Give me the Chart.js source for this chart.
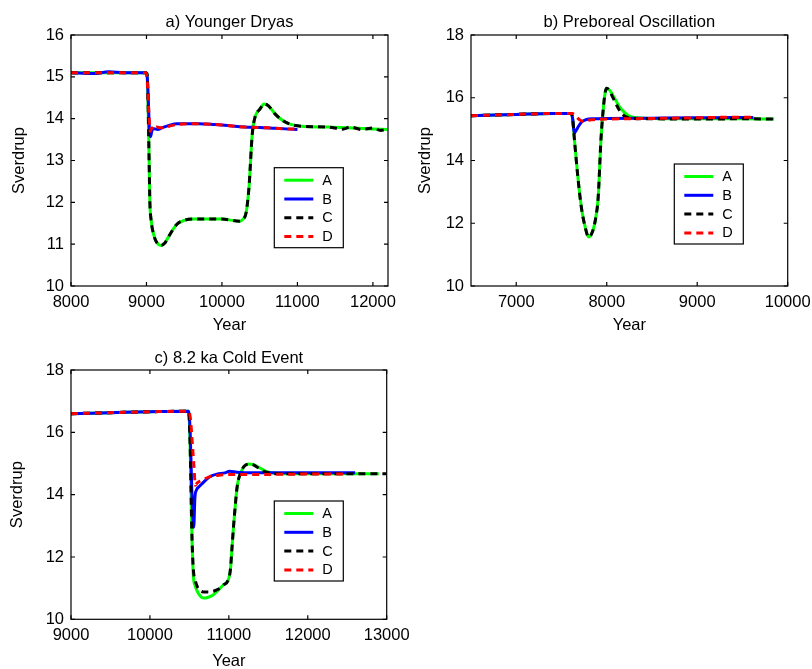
<!DOCTYPE html>
<html><head><meta charset="utf-8">
<script src="https://cdn.jsdelivr.net/npm/chart.js@4.4.1/dist/chart.umd.min.js"></script>
<style>
html,body{margin:0;padding:0;background:#fff;width:812px;height:669px;overflow:hidden;position:relative}
canvas{position:absolute}
</style></head><body>
<canvas id="ca" width="406" height="340" style="left:0;top:0;width:406px;height:340px"></canvas>
<canvas id="cb" width="406" height="340" style="left:406px;top:0;width:406px;height:340px"></canvas>
<canvas id="cc" width="420" height="335" style="left:0;top:340px;width:420px;height:335px"></canvas>
<script>
// ---------- shared series styling ----------
const seriesLabels = ['A', 'B', 'C', 'D'];
const seriesColors = ['#00ff00', '#0000ff', '#000000', '#ff0000'];
const seriesDash = [[], [], [7, 5], [7, 5]];

// ---------- a) Younger Dryas ----------
const titleA = 'a) Younger Dryas';
const xTicksA = [8000, 9000, 10000, 11000, 12000];
const yTicksA = [10, 11, 12, 13, 14, 15, 16];
const yearsA_a = [8000, 8500, 8990, 9005, 9015, 9025, 9035, 9045, 9060, 9100, 9140, 9190, 9240, 9300, 9400, 9500, 9630, 10000, 10230, 10280, 10320, 10360, 10400, 10440, 10500, 10560, 10620, 10700, 10800, 10900, 11050, 11400, 11800, 12200];
const valuesA_a = [15.1, 15.1, 15.1, 15.08, 14.8, 14.0, 13.0, 12.0, 11.6, 11.2, 11.03, 10.97, 11.02, 11.2, 11.47, 11.57, 11.6, 11.6, 11.55, 11.6, 11.75, 12.4, 13.6, 14.05, 14.22, 14.35, 14.3, 14.12, 13.96, 13.87, 13.82, 13.8, 13.77, 13.74];
const yearsB_a = [8000, 8300, 8500, 8700, 8990, 9010, 9025, 9040, 9055, 9070, 9100, 9150, 9200, 9300, 9400, 9500, 9700, 9900, 10100, 10300, 10500, 10700, 10900, 11000];
const valuesB_a = [15.1, 15.08, 15.12, 15.1, 15.1, 15.0, 14.4, 13.7, 13.57, 13.7, 13.76, 13.74, 13.78, 13.84, 13.88, 13.88, 13.88, 13.86, 13.83, 13.8, 13.79, 13.77, 13.75, 13.74];
const yearsC_a = [8000, 8500, 8990, 9005, 9015, 9025, 9035, 9045, 9060, 9100, 9140, 9190, 9240, 9300, 9400, 9500, 9630, 10000, 10230, 10280, 10320, 10360, 10400, 10440, 10500, 10560, 10620, 10700, 10800, 10900, 11050, 11400, 11600, 11700, 11850, 12000, 12100, 12200];
const valuesC_a = [15.1, 15.1, 15.1, 15.08, 14.8, 14.0, 13.0, 12.0, 11.6, 11.2, 11.03, 10.97, 11.02, 11.2, 11.47, 11.57, 11.6, 11.6, 11.55, 11.6, 11.75, 12.4, 13.6, 14.05, 14.22, 14.35, 14.3, 14.12, 13.96, 13.87, 13.82, 13.8, 13.75, 13.8, 13.74, 13.78, 13.72, 13.75];
const yearsD_a = [8000, 8300, 8600, 8990, 9005, 9020, 9035, 9050, 9070, 9100, 9130, 9200, 9300, 9400, 9600, 9800, 10000, 10300, 10600, 10800, 11000];
const valuesD_a = [15.1, 15.1, 15.1, 15.1, 15.0, 14.6, 14.0, 13.7, 13.78, 13.73, 13.8, 13.78, 13.82, 13.86, 13.88, 13.87, 13.85, 13.8, 13.78, 13.76, 13.75];

// ---------- b) Preboreal Oscillation ----------
const titleB = 'b) Preboreal Oscillation';
const xTicksB = [7000, 8000, 9000, 10000];
const yTicksB = [10, 12, 14, 16, 18];
const yearsA_b = [6500, 7000, 7400, 7600, 7620, 7645, 7680, 7720, 7760, 7800, 7845, 7880, 7905, 7937, 7967, 7985, 8000, 8030, 8066, 8100, 8140, 8190, 8230, 8300, 8500, 9000, 9500, 9850];
const valuesA_b = [15.43, 15.47, 15.5, 15.5, 15.4, 14.6, 13.5, 12.5, 11.9, 11.56, 11.75, 12.2, 12.8, 14.7, 15.8, 16.2, 16.3, 16.25, 16.09, 15.92, 15.72, 15.55, 15.45, 15.37, 15.34, 15.33, 15.33, 15.32];
const yearsB_b = [6500, 7000, 7400, 7610, 7625, 7640, 7660, 7690, 7720, 7760, 7800, 7850, 8000, 8500, 9000, 9400, 9620];
const valuesB_b = [15.43, 15.47, 15.5, 15.5, 15.3, 14.88, 14.95, 15.1, 15.22, 15.29, 15.32, 15.33, 15.34, 15.35, 15.36, 15.37, 15.37];
const yearsC_b = [6500, 7000, 7400, 7600, 7620, 7645, 7680, 7720, 7760, 7800, 7845, 7880, 7905, 7937, 7967, 7985, 8000, 8030, 8066, 8100, 8140, 8190, 8230, 8300, 8500, 9000, 9500, 9850];
const valuesC_b = [15.43, 15.47, 15.5, 15.5, 15.4, 14.6, 13.5, 12.5, 11.9, 11.56, 11.75, 12.2, 12.8, 14.7, 15.8, 16.2, 16.3, 16.22, 16.02, 15.82, 15.6, 15.43, 15.37, 15.34, 15.33, 15.32, 15.33, 15.32];
const yearsD_b = [6500, 7000, 7400, 7620, 7660, 7700, 7730, 7830, 8000, 8500, 9000, 9400, 9600];
const valuesD_b = [15.43, 15.47, 15.5, 15.5, 15.4, 15.3, 15.25, 15.3, 15.32, 15.34, 15.36, 15.38, 15.38];

// ---------- c) 8.2 ka Cold Event ----------
const titleC = 'c) 8.2 ka Cold Event';
const xTicksC = [9000, 10000, 11000, 12000, 13000];
const yTicksC = [10, 12, 14, 16, 18];
const yearsA_c = [9000, 9500, 10000, 10490, 10510, 10530, 10550, 10570, 10600, 10640, 10680, 10730, 10800, 10870, 10930, 10995, 11020, 11040, 11060, 11080, 11100, 11120, 11150, 11190, 11250, 11300, 11360, 11420, 11480, 11550, 11620, 12000, 12500, 12900];
const valuesA_c = [16.6, 16.63, 16.66, 16.68, 15.5, 12.9, 11.4, 11.1, 10.9, 10.74, 10.68, 10.7, 10.78, 10.95, 11.1, 11.28, 11.6, 12.3, 13.0, 13.6, 14.15, 14.47, 14.7, 14.9, 14.98, 14.97, 14.9, 14.82, 14.74, 14.7, 14.68, 14.67, 14.67, 14.67];
const yearsB_c = [9000, 9500, 10000, 10490, 10510, 10530, 10545, 10555, 10570, 10590, 10620, 10660, 10720, 10780, 10850, 10950, 11010, 11100, 11300, 11600, 12000, 12300, 12600];
const valuesB_c = [16.6, 16.63, 16.66, 16.68, 16.0, 14.2, 13.2, 12.95, 13.9, 14.15, 14.25, 14.35, 14.5, 14.6, 14.66, 14.7, 14.75, 14.72, 14.7, 14.7, 14.7, 14.7, 14.7];
const yearsC_c = [9000, 9500, 10000, 10490, 10510, 10530, 10550, 10570, 10600, 10640, 10680, 10730, 10800, 10870, 10930, 10995, 11020, 11040, 11060, 11080, 11100, 11120, 11150, 11190, 11250, 11300, 11360, 11420, 11480, 11550, 11620, 12000, 12500, 13000];
const valuesC_c = [16.6, 16.63, 16.66, 16.68, 15.5, 12.9, 11.6, 11.3, 11.05, 10.92, 10.88, 10.88, 10.9, 10.97, 11.1, 11.28, 11.6, 12.3, 13.0, 13.6, 14.15, 14.47, 14.7, 14.9, 14.98, 14.97, 14.88, 14.78, 14.72, 14.68, 14.67, 14.67, 14.67, 14.67];
const yearsD_c = [9000, 9500, 10000, 10490, 10515, 10537, 10558, 10575, 10600, 10650, 10760, 10900, 11100, 11500, 12000, 12500];
const valuesD_c = [16.6, 16.63, 16.66, 16.68, 16.4, 15.65, 14.9, 14.3, 14.38, 14.45, 14.58, 14.63, 14.65, 14.65, 14.66, 14.66];

// ---------- drawing ----------
const FONT = '"Liberation Sans", Arial, Helvetica, sans-serif';
Chart.defaults.font.family = FONT;
Chart.defaults.font.size = 16.5;
Chart.defaults.color = '#000';

function pts(xs, ys) { return xs.map((x, i) => ({ x: x, y: ys[i] })); }

const boxPlugin = {
  id: 'matlabBox',
  afterDraw(chart, args, opts) {
    const ctx = chart.ctx, a = chart.chartArea, sx = chart.scales.x, sy = chart.scales.y;
    ctx.save();
    ctx.strokeStyle = '#000';
    ctx.lineWidth = 1.2;
    ctx.strokeRect(a.left, a.top, a.right - a.left, a.bottom - a.top);
    const L = 4;
    ctx.beginPath();
    sx.ticks.forEach(t => {
      const p = sx.getPixelForValue(t.value);
      ctx.moveTo(p, a.bottom); ctx.lineTo(p, a.bottom - L);
      ctx.moveTo(p, a.top); ctx.lineTo(p, a.top + L);
    });
    sy.ticks.forEach(t => {
      const p = sy.getPixelForValue(t.value);
      ctx.moveTo(a.left, p); ctx.lineTo(a.left + L, p);
      ctx.moveTo(a.right, p); ctx.lineTo(a.right - L, p);
    });
    ctx.stroke();
    // legend box
    const w = 69, h = 80;
    const bx = a.right - opts.legRight - w, by = a.top + opts.legTop;
    ctx.fillStyle = '#fff';
    ctx.fillRect(bx, by, w, h);
    ctx.lineWidth = 1.2;
    ctx.strokeRect(bx, by, w, h);
    ctx.font = '14.5px ' + FONT;
    ctx.textBaseline = 'middle';
    ctx.textAlign = 'left';
    chart.data.datasets.forEach((ds, i) => {
      const yy = by + 12.5 + i * 18.8;
      ctx.beginPath();
      ctx.strokeStyle = ds.borderColor;
      ctx.lineWidth = ds.borderWidth;
      ctx.setLineDash(ds.borderDash || []);
      ctx.lineCap = 'butt';
      ctx.moveTo(bx + 10, yy); ctx.lineTo(bx + 39, yy);
      ctx.stroke();
      ctx.setLineDash([]);
      ctx.fillStyle = '#000';
      ctx.fillText(ds.label, bx + 48, yy + 0.5);
    });
    ctx.restore();
  }
};

function makeChart(id, cfg) {
  const datasets = cfg.series.map((s, i) => ({
    label: seriesLabels[i],
    data: pts(s[0], s[1]),
    borderColor: seriesColors[i],
    borderDash: seriesDash[i],
    borderWidth: 3,
    borderCapStyle: 'butt',
    pointRadius: 0,
    fill: false,
    cubicInterpolationMode: 'monotone',
    order: 4 - i
  }));
  return new Chart(document.getElementById(id), {
    type: 'line',
    data: { datasets: datasets },
    options: {
      responsive: false,
      animation: false,
      events: [],
      layout: { padding: { left: 0, right: cfg.padRight, top: 0, bottom: 0 } },
      plugins: {
        legend: { display: false },
        tooltip: { enabled: false },
        title: {
          display: true, text: cfg.title, fullSize: false, color: '#000',
          font: { size: 16.5, weight: 'normal', family: FONT },
          padding: { top: cfg.tTop, bottom: cfg.tBottom }
        },
        matlabBox: { legRight: cfg.legRight, legTop: cfg.legTop }
      },
      scales: {
        x: {
          type: 'linear', min: cfg.xMin, max: cfg.xMax,
          afterBuildTicks: s => { s.ticks = cfg.xTicks.map(v => ({ value: v })); },
          ticks: { callback: v => String(v), padding: 6.5, maxRotation: 0, autoSkip: false, color: '#000' },
          grid: { display: false, drawTicks: false },
          border: { display: false },
          title: { display: true, text: 'Year', color: '#000', padding: { top: 0, bottom: cfg.xtPad } },
          afterFit: s => { s.height = cfg.xH; s.paddingLeft = 0; s.paddingRight = 0; }
        },
        y: {
          type: 'linear', min: cfg.yMin, max: cfg.yMax,
          afterBuildTicks: s => { s.ticks = cfg.yTicks.map(v => ({ value: v })); },
          ticks: { callback: v => String(v), padding: 7, color: '#000' },
          grid: { display: false, drawTicks: false },
          border: { display: false },
          title: { display: true, text: 'Sverdrup', color: '#000', padding: { top: cfg.ytPad, bottom: 0 } },
          afterFit: s => { s.width = cfg.yW; s.paddingTop = 0; s.paddingBottom = 0; }
        }
      }
    },
    plugins: [boxPlugin]
  });
}

makeChart('ca', {
  title: titleA, xMin: 8000, xMax: 12200, yMin: 10, yMax: 16, xTicks: xTicksA, yTicks: yTicksA,
  series: [[yearsA_a, valuesA_a], [yearsB_a, valuesB_a], [yearsC_a, valuesC_a], [yearsD_a, valuesD_a]],
  padRight: 18, tTop: 12.5, tBottom: 2.7, xH: 54, yW: 71, xtPad: 5, ytPad: 10, legRight: 44.7, legTop: 132.7
});
makeChart('cb', {
  title: titleB, xMin: 6500, xMax: 10000, yMin: 10, yMax: 18, xTicks: xTicksB, yTicks: yTicksB,
  series: [[yearsA_b, valuesA_b], [yearsB_b, valuesB_b], [yearsC_b, valuesC_b], [yearsD_b, valuesD_b]],
  padRight: 24.3, tTop: 12.5, tBottom: 2.7, xH: 54, yW: 65, xtPad: 5, ytPad: 10, legRight: 44.4, legTop: 129
});
makeChart('cc', {
  title: titleC, xMin: 9000, xMax: 13000, yMin: 10, yMax: 18, xTicks: xTicksC, yTicks: yTicksC,
  series: [[yearsA_c, valuesA_c], [yearsB_c, valuesB_c], [yearsC_c, valuesC_c], [yearsD_c, valuesD_c]],
  padRight: 33.3, tTop: 8.6, tBottom: 1.6, xH: 55.7, yW: 71, xtPad: 4, ytPad: 8, legRight: 43.4, legTop: 131
});
</script>
</body></html>
